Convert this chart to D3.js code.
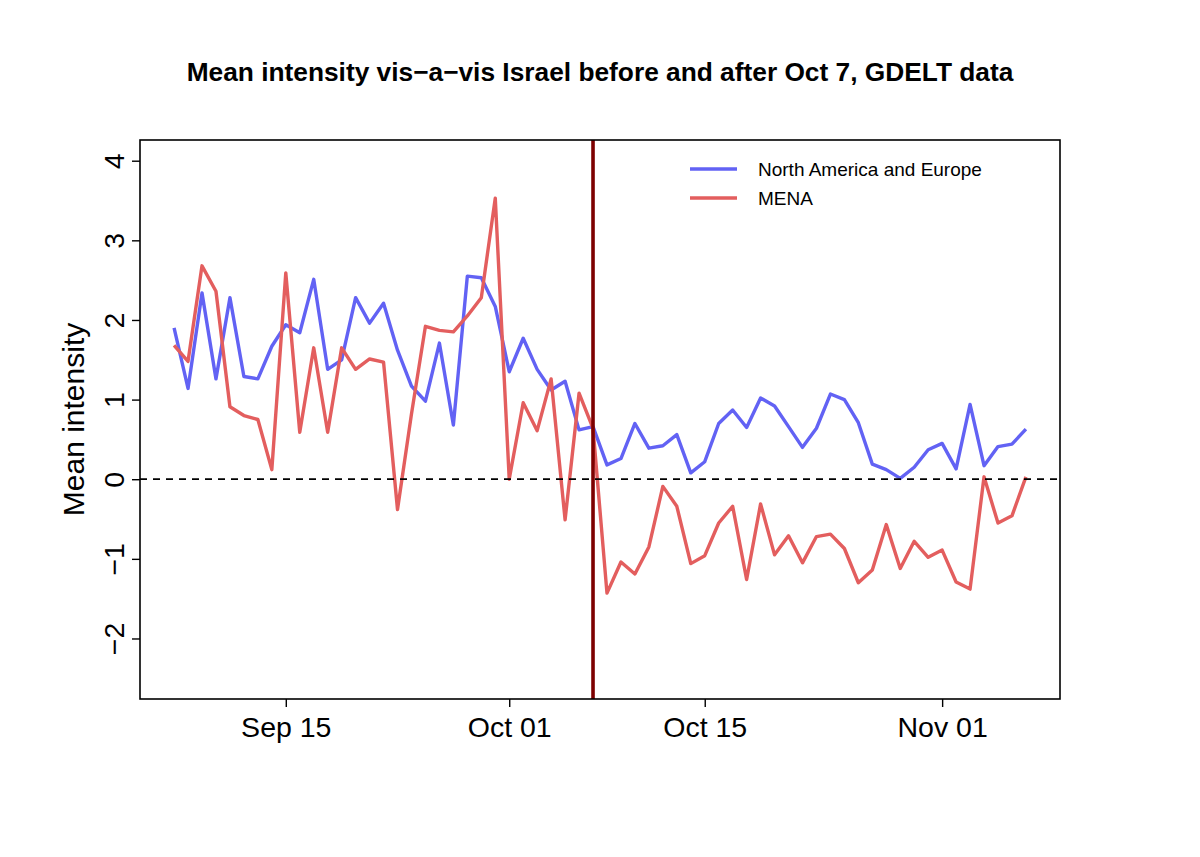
<!DOCTYPE html>
<html>
  <head>
    <meta charset="utf-8">
    <title>Mean intensity</title>
    <script src="https://cdn.jsdelivr.net/npm/d3@7/dist/d3.min.js"></script>
    <style>
      body { margin: 0; background: #fff; }
      text { font-family: "Liberation Sans", Arial, Helvetica, sans-serif; fill: #000; }
    </style>
  </head>
  <body>
    <svg width="1200" height="857" id="mainsvg"></svg>
    <script>
      // daily series, Sep 7 .. Nov 7 (2023)
      const startDate = "2023-09-07";
      const naEurope = [
        1.90, 1.14, 2.34, 1.26, 2.28, 1.29, 1.26, 1.67, 1.94, 1.84,
        2.51, 1.38, 1.50, 2.28, 1.96, 2.21, 1.62, 1.17, 0.98, 1.71,
        0.68, 2.55, 2.53, 2.17, 1.35, 1.77, 1.38, 1.12, 1.23, 0.62,
        0.66, 0.18, 0.26, 0.70, 0.39, 0.42, 0.56, 0.08, 0.22, 0.70,
        0.87, 0.65, 1.02, 0.92, 0.66, 0.40, 0.64, 1.07, 1.00, 0.71,
        0.19, 0.12, 0.01, 0.15, 0.37, 0.45, 0.13, 0.94, 0.17, 0.41,
        0.44, 0.63
      ];
      const mena = [
        1.68, 1.48, 2.68, 2.36, 0.91, 0.80, 0.75, 0.12, 2.59, 0.59,
        1.65, 0.59, 1.65, 1.38, 1.51, 1.47, -0.38, 0.82, 1.92, 1.87,
        1.85, 2.05, 2.28, 3.53, 0.00, 0.96, 0.61, 1.26, -0.51, 1.08,
        0.64, -1.43, -1.04, -1.19, -0.85, -0.09, -0.34, -1.06, -0.96, -0.55,
        -0.34, -1.26, -0.31, -0.95, -0.71, -1.05, -0.72, -0.69, -0.87, -1.30,
        -1.14, -0.57, -1.12, -0.78, -0.98, -0.89, -1.29, -1.38, 0.03, -0.55,
        -0.46, 0.03
      ];
      const seriesNames = ["North America and Europe", "MENA"];
      const seriesColors = ["#6262f4", "#e35e5e"];
      const xTicks = ["2023-09-15", "2023-10-01", "2023-10-15", "2023-11-01"];
      const yTicks = [-2, -1, 0, 1, 2, 3, 4];
      const yLimits = [-2.5, 4];
      const eventDate = "2023-10-07";

      const parse = d3.utcParse("%Y-%m-%d");
      const day0 = parse(startDate);
      const dates = naEurope.map((_, i) => d3.utcDay.offset(day0, i));

      const svg = d3.select("#mainsvg");
      const plot = { left: 140, right: 1060, top: 140, bottom: 699 };

      // R-style 4% padding on both axes
      const t0 = dates[0].getTime(), t1 = dates[dates.length - 1].getTime();
      const padX = (t1 - t0) * 0.04;
      const x = d3.scaleUtc()
        .domain([new Date(t0 - padX), new Date(t1 + padX)])
        .range([plot.left, plot.right]);
      const padY = (yLimits[1] - yLimits[0]) * 0.04;
      const y = d3.scaleLinear()
        .domain([yLimits[0] - padY, yLimits[1] + padY])
        .range([plot.bottom, plot.top]);

      // title
      svg.append("text")
        .attr("x", (plot.left + plot.right) / 2)
        .attr("y", 81)
        .attr("text-anchor", "middle")
        .attr("font-size", 26.3)
        .attr("font-weight", "bold")
        .text("Mean intensity vis\u2212a\u2212vis Israel before and after Oct 7, GDELT data");

      // series
      const line = d3.line()
        .x((d, i) => x(dates[i]))
        .y((d) => y(d));

      [naEurope, mena].forEach((s, k) => {
        svg.append("path")
          .datum(s)
          .attr("fill", "none")
          .attr("stroke", seriesColors[k])
          .attr("stroke-width", 3.4)
          .attr("stroke-linejoin", "round")
          .attr("d", line);
      });

      // reference lines
      svg.append("line")
        .attr("x1", plot.left).attr("x2", plot.right)
        .attr("y1", y(0)).attr("y2", y(0))
        .attr("stroke", "#000")
        .attr("stroke-width", 1.8)
        .attr("stroke-dasharray", "7,6");

      svg.append("line")
        .attr("x1", x(parse(eventDate))).attr("x2", x(parse(eventDate)))
        .attr("y1", plot.top).attr("y2", plot.bottom)
        .attr("stroke", "#7d0000")
        .attr("stroke-width", 3.6);

      // box
      svg.append("rect")
        .attr("x", plot.left).attr("y", plot.top)
        .attr("width", plot.right - plot.left)
        .attr("height", plot.bottom - plot.top)
        .attr("fill", "none")
        .attr("stroke", "#000")
        .attr("stroke-width", 1.6);

      // x axis
      const xAxis = d3.axisBottom(x)
        .tickValues(xTicks.map(parse))
        .tickFormat(d3.utcFormat("%b %d"))
        .tickSize(8)
        .tickSizeOuter(0);
      const gx = svg.append("g")
        .attr("transform", `translate(0, ${plot.bottom})`)
        .call(xAxis);
      gx.select(".domain").remove();
      gx.selectAll(".tick line").attr("stroke", "#000").attr("stroke-width", 1.4);
      gx.selectAll(".tick text")
        .attr("y", 38)
        .attr("dy", null)
        .attr("font-size", 28.5)
        .attr("font-family", "Liberation Sans, Arial, sans-serif")
        .attr("fill", "#000");

      // y axis
      const yAxis = d3.axisLeft(y)
        .tickValues(yTicks)
        .tickFormat((d) => (d < 0 ? "\u2212" + Math.abs(d) : d))
        .tickSize(8)
        .tickSizeOuter(0);
      const gy = svg.append("g")
        .attr("transform", `translate(${plot.left}, 0)`)
        .call(yAxis);
      gy.select(".domain").remove();
      gy.selectAll(".tick line").attr("stroke", "#000").attr("stroke-width", 1.4);
      gy.selectAll(".tick text")
        .attr("x", null)
        .attr("dy", null)
        .attr("text-anchor", "middle")
        .attr("transform", "translate(-16, 0) rotate(-90)")
        .attr("font-size", 28.5)
        .attr("font-family", "Liberation Sans, Arial, sans-serif")
        .attr("fill", "#000");

      svg.append("text")
        .attr("transform", `translate(84, ${(plot.top + plot.bottom) / 2}) rotate(-90)`)
        .attr("text-anchor", "middle")
        .attr("font-size", 30)
        .text("Mean intensity");

      // legend
      const legend = svg.append("g").attr("transform", "translate(690, 169)");
      seriesNames.forEach((name, k) => {
        legend.append("line")
          .attr("x1", 0).attr("x2", 47)
          .attr("y1", k * 29).attr("y2", k * 29)
          .attr("stroke", seriesColors[k])
          .attr("stroke-width", 3.4);
        legend.append("text")
          .attr("x", 68)
          .attr("y", k * 29 + 7)
          .attr("font-size", 19)
          .text(name);
      });
    </script>
  </body>
</html>
